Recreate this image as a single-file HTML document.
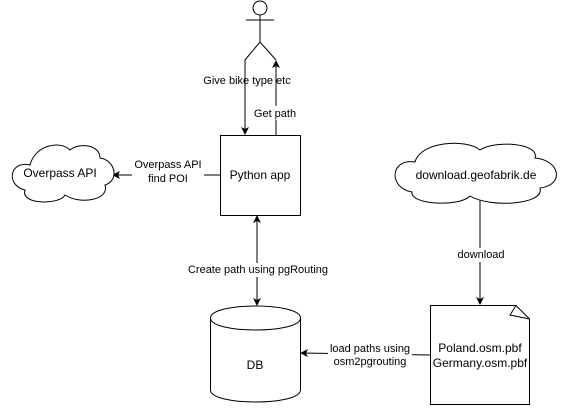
<!DOCTYPE html>
<html><head><style>body{margin:0;background:#fff}svg text{font-family:"Liberation Sans",Arial,sans-serif;font-size:11px;fill:#000}</style></head><body>
<svg width="561" height="407" viewBox="0 0 561 407" xmlns="http://www.w3.org/2000/svg">
<defs><marker id="a" markerWidth="8" markerHeight="8" refX="7" refY="4" orient="auto-start-reverse" markerUnits="userSpaceOnUse"><path d="M0,0 L8,4 L0,8 L2,4 Z" fill="#000"/></marker></defs>
<g stroke="#000" fill="none" stroke-width="1">
<circle cx="260" cy="8" r="7" fill="#fff"/>
<line x1="260" y1="15" x2="260" y2="42"/>
<line x1="246" y1="20" x2="274" y2="20"/>
<polyline points="245,60 260,42 276,60"/>
<line x1="245" y1="60" x2="245" y2="134" marker-end="url(#a)"/>
<line x1="276" y1="135" x2="276" y2="61" marker-end="url(#a)"/>
<rect x="250" y="106" width="50" height="14" fill="#fff" stroke="none"/>
<rect x="220.5" y="135.5" width="80" height="80" fill="#fff"/>
<line x1="220" y1="175" x2="113" y2="175" marker-end="url(#a)"/>
<line x1="257" y1="216" x2="257" y2="305" marker-start="url(#a)" marker-end="url(#a)"/>
<line x1="480" y1="200" x2="480" y2="304" marker-end="url(#a)"/>
<line x1="430" y1="355" x2="301" y2="353" marker-end="url(#a)"/>
<path d="M30,165 C10,160 5,185 25,190 C20,205 60,205 65,195 C80,205 110,200 105,185 C120,180 115,160 100,158 C100,145 80,142 70,150 C60,140 35,145 30,165 Z" fill="#fff"/>
<path d="M415,162 C390,158 388,188 412,192 C410,205 460,207 470,196 C490,208 545,205 540,188 C565,185 560,160 535,158 C540,143 495,140 480,150 C465,138 420,142 415,162 Z" fill="#fff"/>
<path d="M210.5,318 C210.5,302 300.5,302 300.5,318 L300.5,390 C300.5,406 210.5,406 210.5,390 Z" fill="#fff"/>
<path d="M210.5,318 C210.5,334 300.5,334 300.5,318"/>
<path d="M430.5,305.5 L516,305.5 L529.5,319 L529.5,404.5 L430.5,404.5 Z" fill="#fff"/>
<path d="M516,305.5 L510,315 L529.5,319"/>
</g>
<rect x="198" y="73" width="44" height="14" fill="#fff"/>
<rect x="249" y="73" width="24" height="14" fill="#fff"/>
<text x="247" y="84" text-anchor="middle">Give bike type etc</text>
<text x="275" y="117" text-anchor="middle">Get path</text>
<text x="260" y="179" text-anchor="middle" style="font-size:12px">Python app</text>
<rect x="132" y="157" width="72" height="30" fill="#fff"/>
<text x="168" y="168" text-anchor="middle">Overpass API</text>
<text x="168" y="182" text-anchor="middle">find POI</text>
<text x="60" y="177" text-anchor="middle" style="font-size:12px">Overpass API</text>
<text x="476" y="179" text-anchor="middle" style="font-size:12px">download.geofabrik.de</text>
<rect x="455" y="248" width="52" height="14" fill="#fff"/>
<text x="481" y="258" text-anchor="middle">download</text>
<rect x="183" y="263" width="150" height="14" fill="#fff"/>
<text x="258" y="273" text-anchor="middle">Create path using pgRouting</text>
<rect x="328" y="342" width="84" height="28" fill="#fff"/>
<text x="370" y="352" text-anchor="middle">load paths using</text>
<text x="370" y="365" text-anchor="middle">osm2pgrouting</text>
<text x="255" y="369" text-anchor="middle" style="font-size:12px">DB</text>
<text x="480" y="352" text-anchor="middle" style="font-size:12px">Poland.osm.pbf</text>
<text x="480" y="367" text-anchor="middle" style="font-size:12px">Germany.osm.pbf</text>
</svg>
</body></html>
